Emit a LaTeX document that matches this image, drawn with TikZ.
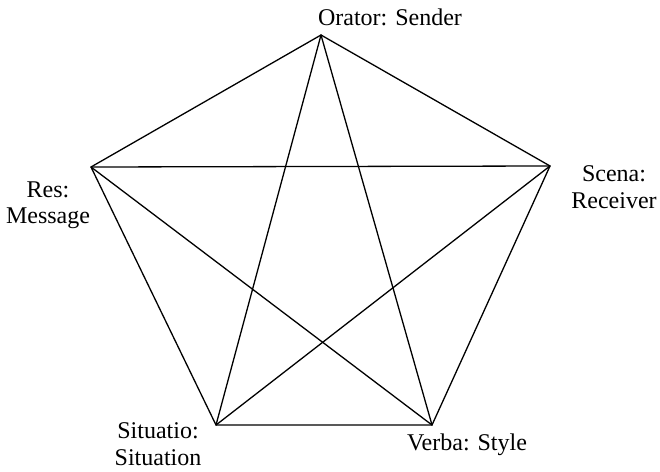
\documentclass[tikz,border=0pt]{standalone}
\usepackage{fontspec}
\setmainfont{Liberation Serif}
\usetikzlibrary{positioning}
\tikzset{
  edge/.style={line width=1.3pt,line cap=round,line join=round},
  lbl/.style={font=\fontsize{24}{26.5}\selectfont,align=center,inner sep=0pt}
}

\begin{document}
\begin{tikzpicture}[x=1pt,y=-1pt]
  \useasboundingbox (0,0) rectangle (660,471);
  \coordinate (Or) at (321,35);
  \coordinate (Sc) at (550,166);
  \coordinate (Ve) at (432,425);
  \coordinate (Si) at (216,425);
  \coordinate (Re) at (91,167);
  % pentagon
  \draw[edge] (Or)--(Sc)--(Ve)--(Si)--(Re)--cycle;
  % star
  \draw[edge] (Or)--(Ve);
  \draw[edge] (Or)--(Si);
  \draw[edge] (Re)--(Sc);
  \draw[edge] (Re)--(Ve);
  \draw[edge] (Si)--(Sc);
  % labels
  \node[lbl] (orator) at (390,17) {Orator: Sender};
  \node[lbl] (scena) at (614,187) {Scena:\\Receiver};
  \node[lbl] (res) at (48,205) {Res:\\Message};
  \node[lbl] (situatio) at (158,444) {Situatio:\\Situation};
  \node[lbl] (verba) at (467,445) {Verba: Style};
\end{tikzpicture}
\end{document}
